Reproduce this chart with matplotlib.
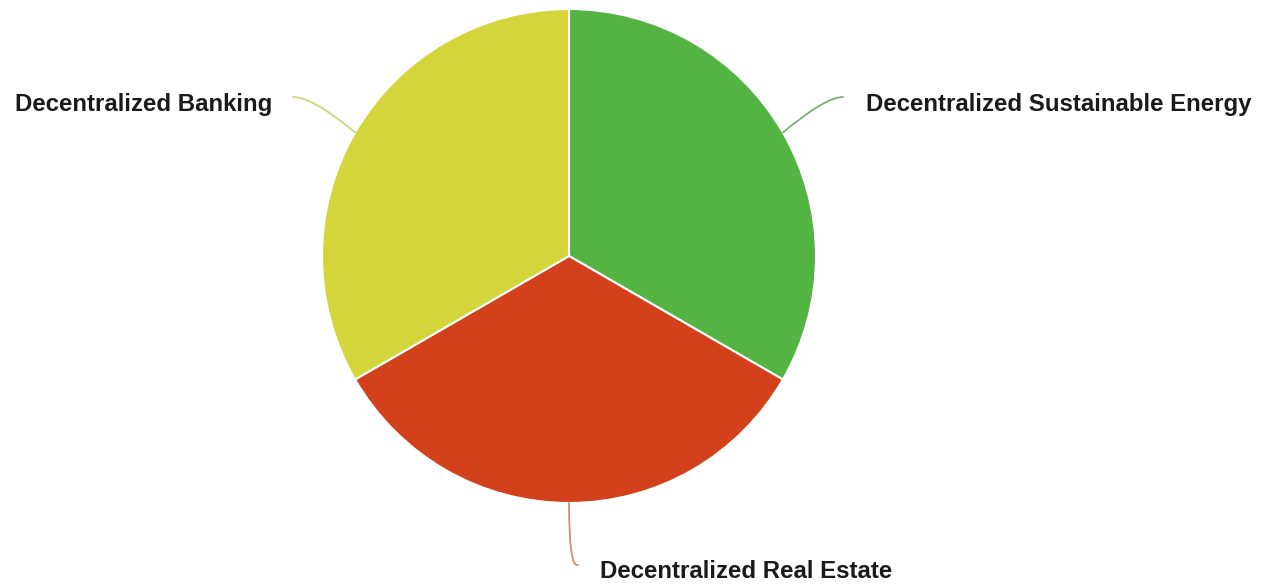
import numpy as np
import matplotlib.pyplot as plt

# Data
labels = ['Decentralized Sustainable Energy', 'Decentralized Real Estate', 'Decentralized Banking']
values = [1, 1, 1]
colors = ['#53b443', '#d2411c', '#d4d53b']
line_colors = ['#7fae78', '#d98a74', '#cfd27f']

fig = plt.figure(figsize=(12.62, 5.85), dpi=100)
ax = fig.add_axes([0, 0, 1, 1])

cx, cy, r = 569, 329, 247
wedges, _ = ax.pie(values, colors=colors, startangle=90, counterclock=False,
                   center=(cx, cy), radius=r, frame=True,
                   wedgeprops=dict(edgecolor='white', linewidth=1.5))
ax.set_xlim(0, 1262)
ax.set_ylim(0, 585)
ax.set_aspect('equal')
ax.axis('off')

# label placement (line end, text pos, alignment, connector angles)
ends = [(843, 488), (578, 20), (293, 488)]
text_pos = [(866, 481), (600, 14), (272, 480)]
aligns = ['left', 'left', 'right']
angleA = [0, 20, 180]
angleB = [40, 270, 140]

for lab, lc, end, tp, ha, aA, aB, w in zip(labels, line_colors, ends, text_pos, aligns, angleA, angleB, wedges):
    mid = (w.theta1 + w.theta2) / 2
    px = cx + r * np.cos(np.radians(mid))
    py = cy + r * np.sin(np.radians(mid))
    ax.annotate('', xy=(px, py), xytext=end,
                arrowprops=dict(arrowstyle='-', color=lc, lw=1.3,
                                shrinkA=0, shrinkB=0,
                                connectionstyle=f'angle3,angleA={aA},angleB={aB}'))
    ax.text(tp[0], tp[1], lab, ha=ha, va='center', fontsize=17.3,
            fontweight='bold', family='Liberation Sans', color='#1a1a1a')

fig.savefig('out.png', dpi=100)
